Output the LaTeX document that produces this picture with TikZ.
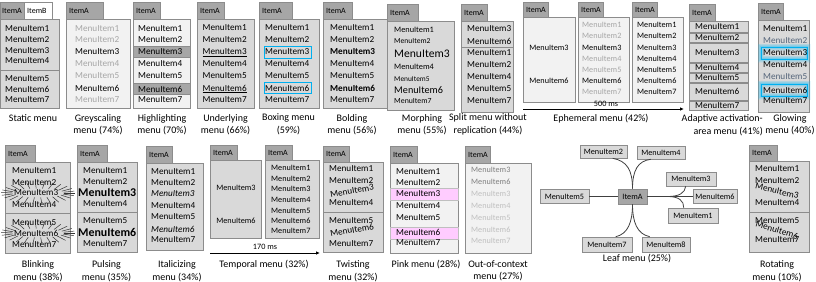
\documentclass[tikz,border=0pt]{standalone}
\usepackage{fontspec}
\setmainfont{Carlito}
\usetikzlibrary{calc,arrows.meta}
\definecolor{bord}{HTML}{8C8C8C}
\definecolor{boxg}{HTML}{D9D9D9}
\definecolor{lite}{HTML}{F2F2F2}
\definecolor{tabg}{HTML}{A6A6A6}
\definecolor{greyt}{HTML}{A6A6A6}
\definecolor{midt}{HTML}{7F7F7F}
\definecolor{palet}{HTML}{BFBFBF}
\definecolor{blueb}{HTML}{00B0F0}
\definecolor{pinkr}{HTML}{FFCCFF}
\definecolor{slate}{HTML}{55657A}
\newcommand\fs[1]{\fontsize{#1}{#1}\selectfont}
\newcommand\fItem{\fontsize{9.2}{10}\selectfont}
\newcommand\fSmall{\fontsize{8.2}{9}\selectfont}
\newcommand\fTab{\fontsize{8}{9}\selectfont}
\newcommand\fCap{\fontsize{10}{12.5}\selectfont}
\tikzset{
 tabst/.style={draw=bord, fill=tabg, line width=0.6pt},
 menust/.style={draw=bord, fill=boxg, line width=0.6pt},
 litest/.style={draw=bord, fill=lite, line width=0.6pt},
 hlst/.style={draw=bord, fill=tabg, line width=0.6pt},
 pinkst/.style={draw=black!25, fill=pinkr, line width=0.6pt},
 sepst/.style={draw=bord, line width=0.6pt},
 itm/.style={font=\fItem, inner sep=0pt, anchor=west},
 sitm/.style={font=\fSmall, inner sep=0pt, anchor=west},
 tabt/.style={font=\fTab, inner sep=0pt, anchor=west},
 capt/.style={font=\fCap, inner sep=0pt, align=center},
 leafbox/.style={draw=bord, fill=boxg, font=\fSmall, inner sep=0pt, line width=0.6pt},
 leafc/.style={draw=black!75, line width=0.8pt},
 arr/.style={-{Latex[length=4pt,width=3.5pt]}, line width=0.9pt},
 ray/.style={draw=black!80, line width=0.5pt},
 bluebox/.style={draw=blueb, line width=0.9pt}
}
\newcommand\mtab[5]{%
  \draw[tabst] (#2,#4) rectangle (#3,#5);
  \node[tabt] (#1) at (#2+3,{(#4+#5)/2}) {ItemA};}
\begin{document}
\begin{tikzpicture}[x=1pt,y=-1pt]
\useasboundingbox (0,0) rectangle (816,281);

% 1 Static
\draw[menust] (0,19) rectangle (59,108);
\draw[sepst] (0,70) -- (59,70);
\draw[tabst] (0,2) rectangle (24,19);
\node[tabt] (sA) at (2,10.5) {ItemA};
\draw[draw=bord, fill=white, line width=0.6pt] (24,2) rectangle (52,19);
\node[tabt] (sB) at (27,10.5) {ItemB};
\foreach \i/\y in {1/29,2/40,3/50.5,4/61,5/79,6/89.5,7/100}
  \node[itm] (s\i) at (5,\y) {MenuItem\i};
\node[capt] (sc) at (33,118) {Static menu};

% 2 Greyscaling
\draw[litest] (66,19) rectangle (130,108);
\mtab{gA}{66}{103}{2}{19}
\foreach \i/\y/\cl in {1/28.5/greyt,2/40/greyt,3/52/black,4/64/greyt,5/76/greyt,6/88/black,7/99.5/greyt}
  \node[itm, text=\cl] (g\i) at (75,\y) {MenuItem\i};
\node[capt] (gc) at (98,124.5) {Greyscaling\\menu (74\%)};

% 3 Highlighting
\draw[litest] (133,19) rectangle (190,108);
\draw[hlst] (133,46) rectangle (190,57);
\draw[hlst] (133,83.5) rectangle (190,94.5);
\mtab{hA}{133}{160}{2}{19}
\foreach \i/\y in {1/28.5,2/40,3/51.5,4/64,5/76,6/89,7/99.5}
  \node[itm] (h\i) at (138,\y) {MenuItem\i};
\node[capt] (hc) at (162,124.5) {Highlighting\\menu (70\%)};

% 4 Underlying
\draw[menust] (197,19) rectangle (254,108);
\mtab{uA}{197}{224}{2}{19}
\foreach \i/\y in {1/28,2/40,3/52,4/64,5/76,6/88,7/99.5}
  \node[itm] (u\i) at (202.5,\y) {MenuItem\i};
\draw[line width=0.5pt] ([yshift=-1.4pt]u3.south west) -- ([yshift=-1.4pt]u3.south east);
\draw[line width=0.5pt] ([yshift=-1.4pt]u6.south west) -- ([yshift=-1.4pt]u6.south east);
\node[capt] (uc) at (225.5,124.5) {Underlying\\menu (66\%)};

% 5 Boxing
\draw[menust] (259,19) rectangle (319,108);
\mtab{bA}{259}{292}{2}{19}
\foreach \i/\y in {1/28,2/40,3/52,4/64,5/76,6/88,7/99.5}
  \node[itm] (b\i) at (265,\y) {MenuItem\i};
\draw[bluebox] (264,46) rectangle (311,58);
\draw[bluebox] (264,82) rectangle (311,93.5);
\node[capt] (bc) at (288.5,124.5) {Boxing menu\\(59\%)};

% 6 Bolding
\draw[menust] (323,19) rectangle (388,108);
\mtab{dA}{323}{352}{2}{19}
\foreach \i/\y in {1/28,2/40,4/64,5/76,7/99.5}
  \node[itm] (d\i) at (330,\y) {MenuItem\i};
\node[itm, font=\fItem\bfseries] (d3) at (330,52) {MenuItem3};
\node[itm, font=\fItem\bfseries] (d6) at (330,88) {MenuItem6};
\node[capt] (dc) at (352,124.5) {Bolding\\menu (56\%)};

% 7 Morphing
\draw[menust] (387,21) rectangle (454,110);
\mtab{mA}{387}{418}{4}{21}
\node[itm, font=\fs{8.3}] (m1) at (394,30) {MenuItem1};
\node[itm, font=\fs{7.6}] (m2) at (394,41) {MenuItem2};
\node[itm, font=\fs{11.6}] (m3) at (394,54) {MenuItem3};
\node[itm, font=\fs{8.3}] (m4) at (394,67) {MenuItem4};
\node[itm, font=\fs{7.4}] (m5) at (394,79) {MenuItem5};
\node[itm, font=\fs{10.2}] (m6) at (394,90) {MenuItem6};
\node[itm, font=\fs{7.8}] (m7) at (394,101) {MenuItem7};
\node[capt] (mc) at (422,124.5) {Morphing\\menu (55\%)};

% 8 Split
\draw[menust] (461,21) rectangle (513,112);
\draw[sepst] (461,47) -- (513,47);
\mtab{pA}{461}{487}{4}{21}
\foreach \i/\y in {3/29,6/41,1/53,2/65,4/77,5/89,7/101}
  \node[itm] (p\i) at (467,\y) {MenuItem\i};
\node[capt] (pc) at (488,124.5) {Split menu without\\replication (44\%)};

% 9 Ephemeral
\draw[litest] (523,17) rectangle (575,102);
\mtab{eaA}{523}{548}{2}{17}
\node[font=\fSmall, inner sep=0pt] (ea3) at (549,48) {MenuItem3};
\node[font=\fSmall, inner sep=0pt] (ea6) at (549,81) {MenuItem6};
\draw[litest] (578,17) rectangle (629,102);
\mtab{ebA}{578}{603}{2}{17}
\foreach \i/\y/\cl in {1/25/greyt,2/36/greyt,3/47.5/black,4/58.5/greyt,5/70/greyt,6/81/black,7/92/greyt}
  \node[sitm, text=\cl] (eb\i) at (582,\y) {MenuItem\i};
\draw[litest] (632,17) rectangle (683,102);
\mtab{ecA}{632}{657}{2}{17}
\foreach \i/\y in {1/25,2/36,3/47.5,4/58.5,5/70,6/81,7/92}
  \node[sitm] (ec\i) at (637,\y) {MenuItem\i};
\coordinate (eS) at (523,109);
\coordinate (eE) at (684,109);
\draw[arr] (eS) -- (eE);
\node[font=\fSmall, inner sep=0pt] (e500) at (606,104) {500 ms};
\node[capt] (ecap) at (601,119) {Ephemeral menu (42\%)};

% 10 Adaptive activation-area
\draw[tabst] (689,4) rectangle (715,21);
\node[tabt] (aA) at (692,12.5) {ItemA};
\foreach \i/\a/\b in {1/21/32,2/33/42,3/43/62,4/63/72,5/73/82,6/83/100,7/101/110}{
  \draw[menust] (689,\a) rectangle (748,\b);
  \node[itm] (a\i) at (695,{(\a+\b)/2}) {MenuItem\i};}
\node[capt, align=right, anchor=east] (acap) at (763,125) {Adaptive activation-\\area menu (41\%)};

% 11 Glowing
\draw[menust] (758,20) rectangle (809,112);
\mtab{wA}{758}{783}{3}{20}
\foreach \r in {47,84}{
  \foreach \w/\o in {7/0.10,5.5/0.15,4/0.22,2.6/0.32}
    \draw[blueb!80, line width=\w pt, opacity=\o] (761,\r) rectangle (807,\r+12);
  \draw[bluebox] (761,\r) rectangle (807,\r+12);}
\foreach \i/\y/\cl in {1/29/black,2/41/slate,3/53/black,4/65/black,5/77/slate,6/90/black,7/101/black}
  \node[itm, text=\cl] (w\i) at (763,\y) {MenuItem\i};
\node[capt] (wc) at (790,124.5) {Glowing\\menu (40\%)};

% 12 Blinking
\draw[menust] (5,162) rectangle (70,253);
\draw[sepst] (5,213) -- (70,213);
\mtab{kA}{5}{35}{145}{162}
\foreach \i/\y/\x in {1/171/12,2/182.5/12,3/193/14,4/205/12,5/222.5/12,6/233/14,7/244.5/12}
  \node[itm] (k\i) at (\x,\y) {MenuItem\i};
\foreach \cy in {193,233}{
  \foreach \a in {0,14,...,359}
    \draw[ray] ({38+26*cos(\a)},{\cy+4.5*sin(\a)}) -- ({38+37*cos(\a)},{\cy+11*sin(\a)});}
\node[capt] (kc) at (38,271) {Blinking\\menu (38\%)};

% 13 Pulsing
\draw[menust] (77,162) rectangle (137,252);
\draw[sepst] (77,212) -- (137,212);
\mtab{lA}{77}{107}{145}{162}
\foreach \i/\y in {1/171,2/182,4/204,5/221,7/244}
  \node[itm] (l\i) at (83,\y) {MenuItem\i};
\node[itm, font=\fs{11.9}\bfseries] (l3) at (78,193) {MenuItem3};
\node[itm, font=\fs{11.9}\bfseries] (l6) at (78,232) {MenuItem6};
\node[capt] (lc) at (106.5,271) {Pulsing\\menu (35\%)};

% 14 Italicizing
\draw[menust] (146,163) rectangle (203,250);
\mtab{iA}{146}{172}{146}{163}
\foreach \i/\y in {1/172,2/183,4/206,5/217,7/240}
  \node[itm] (it\i) at (151,\y) {MenuItem\i};
\node[itm, font=\fItem\itshape] (it3) at (151,194) {MenuItem3};
\node[itm, font=\fItem\itshape] (it6) at (151,229) {MenuItem6};
\node[capt] (ic) at (177,271) {Italicizing\\menu (34\%)};

% 15 Temporal
\draw[menust] (210,160) rectangle (261,238);
\mtab{taA}{210}{237}{145}{160}
\node[font=\fSmall, inner sep=0pt] (ta3) at (236,188) {MenuItem3};
\node[font=\fSmall, inner sep=0pt] (ta6) at (236,221) {MenuItem6};
\draw[menust] (265,160) rectangle (319,238);
\mtab{tbA}{265}{292}{145}{160}
\foreach \i/\y in {1/168,2/178.5,3/189,4/200,5/210.5,6/221,7/231}
  \node[sitm] (tb\i) at (271,\y) {MenuItem\i};
\coordinate (tS) at (210,253);
\coordinate (tE) at (320,253);
\draw[arr] (tS) -- (tE);
\node[font=\fSmall, inner sep=0pt] (t170) at (265,247) {170 ms};
\node[capt] (tcap) at (264,265) {Temporal menu (32\%)};

% 16 Twisting
\draw[menust] (323,162) rectangle (383,252);
\draw[sepst] (323,212) -- (383,212);
\mtab{vA}{323}{349}{146}{162}
\foreach \i/\y in {1/169,2/181,4/203,5/221,7/244}
  \node[itm] (v\i) at (329,\y) {MenuItem\i};
\node[font=\fItem, inner sep=0pt, rotate=10] (v3) at (352,191) {MenuItem3};
\node[font=\fItem, inner sep=0pt, rotate=10] (v6) at (352,230) {MenuItem6};
\node[capt] (vc) at (353,271) {Twisting\\menu (32\%)};

% 17 Pink
\draw[litest] (390,163) rectangle (458,253);
\draw[pinkst] (390,188) rectangle (458,200);
\draw[pinkst] (390,227) rectangle (458,239);
\mtab{kpA}{390}{417}{146}{163}
\foreach \i/\y in {1/172,2/183,3/194,4/206,5/218,6/232,7/242.5}
  \node[itm] (pk\i) at (396,\y) {MenuItem\i};
\node[capt] (pkc) at (426,265) {Pink menu (28\%)};

% 18 Out-of-context
\draw[litest] (465,163) rectangle (531,253);
\mtab{oA}{465}{490}{146}{163}
\node[sitm, text=midt] (o1) at (471,170) {MenuItem3};
\node[sitm, text=midt] (o2) at (471,182) {MenuItem6};
\foreach \i/\y in {3/193.5,4/206,5/218,6/230,7/241}
  \node[sitm, text=palet] (oo\i) at (471,\y) {MenuItem\i};
\node[capt] (oc) at (498,271) {Out-of-context\\menu (27\%)};

% 19 Leaf
\node[leafbox, fill=tabg, minimum width=29pt, minimum height=15pt] (LA) at (632.5,196.5) {ItemA};
\node[leafbox, minimum width=49pt, minimum height=14pt] (L5) at (564.5,196.5) {MenuItem5};
\node[leafbox, minimum width=47pt, minimum height=13pt] (L2) at (603.5,151.5) {MenuItem2};
\node[leafbox, minimum width=48pt, minimum height=13pt] (L4) at (661,152.5) {MenuItem4};
\node[leafbox, minimum width=50pt, minimum height=14pt] (L3) at (691,179) {MenuItem3};
\node[leafbox, minimum width=44pt, minimum height=14pt] (L6) at (715,196.5) {MenuItem6};
\node[leafbox, minimum width=50pt, minimum height=15pt] (L1) at (693,215.5) {MenuItem1};
\node[leafbox, minimum width=50pt, minimum height=15pt] (L7) at (607,244.5) {MenuItem7};
\node[leafbox, minimum width=48pt, minimum height=15pt] (L8) at (666,244.5) {MenuItem8};
\coordinate (Lbr) at (668,196.5);
\draw[leafc] (L5.east) -- (LA.west);
\draw[leafc] (LA.east) -- (Lbr) -- (L6.west);
\draw[leafc] (Lbr) .. controls (679,196.5) and (685,193) .. ($(L3.south west)+(20,0)$);
\draw[leafc] (Lbr) .. controls (679,196.5) and (684,201) .. ($(L1.north west)+(16,0)$);
\draw[leafc] ($(L2.south west)+(33,0)$) .. controls (627,161) and (632.5,170) .. (LA.north);
\draw[leafc] ($(L4.south west)+(14,0)$) .. controls (638,161) and (632.5,170) .. (LA.north);
\draw[leafc] (LA.south) .. controls (632.5,222) and (628,234) .. ($(L7.north west)+(34,0)$);
\draw[leafc] (LA.south) .. controls (632.5,222) and (637,234) .. ($(L8.north west)+(8,0)$);
\node[capt] (Lc) at (637,259) {Leaf menu (25\%)};

% 20 Rotating
\draw[menust] (749,161) rectangle (809,252);
\draw[sepst] (749,212) -- (809,212);
\mtab{rA}{749}{777}{145}{161}
\foreach \i/\y in {1/169,2/180.5,4/203,5/221,7/240}
  \node[itm] (r\i) at (755,\y) {MenuItem\i};
\node[font=\fItem, inner sep=0pt, rotate=-13] (r3) at (777,191) {MenuItem3};
\node[font=\fItem, inner sep=0pt, rotate=-17] (r6) at (777,230) {MenuItem6};
\node[capt] (rc) at (777,271) {Rotating\\menu (10\%)};
\end{tikzpicture}
\end{document}
